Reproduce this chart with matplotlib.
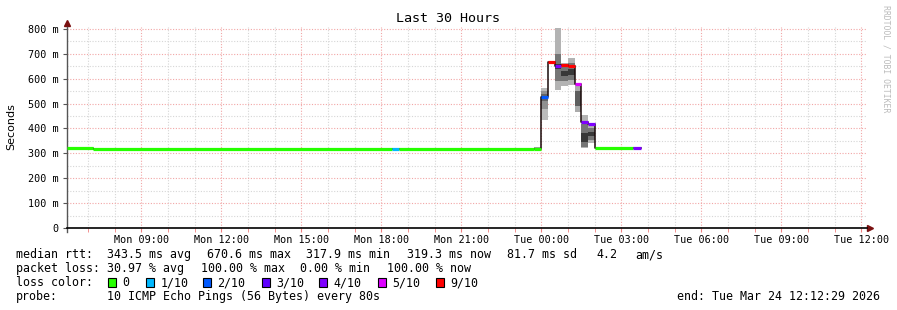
import matplotlib
matplotlib.use("Agg")
import matplotlib.pyplot as plt
import numpy as np

# hours since Mon 00:00
t_start = 6.208
t_end = 36.208

seg_times = [6.208, 7.2, 18.40, 18.66, 23.72, 24.0, 24.25, 24.5, 24.75, 25.0, 25.25, 25.5, 25.75, 26.0, 27.43, 27.73]
median_ms = [320, 318, 318, 318, 318, 526, 668, 651, 655, 650, 577, 427, 418, 320, 320]
loss = [0, 0, 1, 0, 0, 2, 9, 4, 9, 9, 5, 4, 4, 0, 4]

# sorted ping values per segment (ms), None = no smoke
smoke = [None, None, None, None,
         [318, 319, 319, 320, 320, 320, 321, 322, 324, 327],
         [434, 480, 512, 520, 530, 540, 552, 562],
         None,
         [554, 590, 640, 660, 700, 803],
         [572, 590, 610, 630, 648, 662],
         [576, 595, 615, 640, 665, 684],
         [467, 490, 520, 550, 574],
         [320, 326, 347, 380, 420, 454],
         [340, 355, 370, 385, 400, 413],
         None, None]

loss_colors = {0: '#26ff00', 1: '#00b8ff', 2: '#0059ff', 3: '#5e00ff',
               4: '#7e00ff', 5: '#dd00ff', 9: '#ff0000'}
legend_loss = [0, 1, 2, 3, 4, 5, 9]
legend_loss_labels = ['0', '1/10', '2/10', '3/10', '4/10', '5/10', '9/10']

tick_hours = [9, 12, 15, 18, 21, 24, 27, 30, 33, 36]
tick_labels = ['Mon 09:00', 'Mon 12:00', 'Mon 15:00', 'Mon 18:00', 'Mon 21:00',
               'Tue 00:00', 'Tue 03:00', 'Tue 06:00', 'Tue 09:00', 'Tue 12:00']
y_ticks = [0, 100, 200, 300, 400, 500, 600, 700, 800]

mono = 'DejaVu Sans Mono'
W, H = 897, 310

fig = plt.figure(figsize=(W / 100, H / 100), dpi=100)
fig.patch.set_facecolor('white')
ax = fig.add_axes([67 / W, (H - 228) / H, 800 / W, (228 - 26.5) / H])
ax.set_xlim(t_start, t_end)
ax.set_ylim(0, 810)

# grid
dot = (0, (1, 1.5))
for h in np.arange(7, 37, 1):
    c = '#f2a6a6' if h % 3 == 0 else '#d6d6d6'
    ax.axvline(h, color=c, lw=0.8, ls=dot, zorder=0)
for v in range(50, 811, 50):
    c = '#f2a6a6' if v % 100 == 0 else '#d6d6d6'
    ax.axhline(v, color=c, lw=0.8, ls=dot, zorder=0)

# smoke
for i, pings in enumerate(smoke):
    if pings is None:
        continue
    p = sorted(pings)
    n = len(p)
    half = (n - 1) / 2
    for j in range(n - 1):
        d = abs((j + 0.5) - half) / half
        g = 0.22 + 0.6 * d
        ax.fill_between([seg_times[i], seg_times[i + 1]], p[j], p[j + 1],
                        color=(g, g, g), lw=0, zorder=1)

# median line
ax.step(seg_times, median_ms + [median_ms[-1]], where='post', color='#1a0a0a', lw=1.1, zorder=2)
for i in range(len(median_ms)):
    ax.hlines(median_ms[i], seg_times[i], seg_times[i + 1],
              color=loss_colors[loss[i]], lw=2.3, zorder=3)

# axes styling
for s in ['top', 'right']:
    ax.spines[s].set_visible(False)
ax.spines['left'].set_color('#555555')
ax.spines['bottom'].set_color('black')
ax.spines['left'].set_linewidth(1)
ax.spines['bottom'].set_linewidth(1.2)
ax.spines['left'].set_bounds(-15, 810)
ax.plot([1.004], [0], marker='>', color='#7a1010', ms=4, transform=ax.transAxes, clip_on=False)
ax.plot([0], [1.015], marker='^', color='#7a1010', ms=4, transform=ax.transAxes, clip_on=False)

ax.set_xticks(tick_hours)
ax.set_xticklabels(tick_labels, fontsize=7.3, family=mono)
ax.set_xticks(np.arange(7, 37, 1), minor=True)
ax.tick_params(axis='x', which='major', length=3, color='#f08080', pad=2)
ax.tick_params(axis='x', which='minor', length=3, color='#f08080')
ax.set_yticks(y_ticks)
ax.set_yticklabels(['0'] + ['%d m' % v for v in y_ticks[1:]], fontsize=7.3, family=mono)
ax.tick_params(axis='y', length=3, color='#555555', pad=3)

fig.text(448 / W, 1 - 19 / H, 'Last 30 Hours', ha='center', va='center', fontsize=9.6, family=mono)
fig.text(11 / W, 1 - 127 / H, 'Seconds', rotation=90, ha='center', va='center', fontsize=8)
fig.text(886 / W, 1 - 5 / H, 'RRDTOOL / TOBI OETIKER', rotation=270, ha='center', va='top',
         fontsize=5.9, family=mono, color='#bbbbbb')

fs = 8.4


def put(x, y, s, ha='left'):
    fig.text(x / W, 1 - y / H, s, ha=ha, va='baseline', fontsize=fs, family=mono)


put(16, 258, 'median rtt:')
for x, s in [(107, '343.5 ms avg'), (207, '670.6 ms max'), (306.5, '317.9 ms min'),
             (407, '319.3 ms now'), (507, '81.7 ms sd'), (596.5, '4.2'), (635, 'am/s')]:
    put(x, 258, s)
put(16, 272, 'packet loss:')
for x, s in [(107, '30.97 % avg'), (200.5, '100.00 % max'), (300, '0.00 % min'), (386.5, '100.00 % now')]:
    put(x, 272, s)
put(16, 286, 'loss color:')
box_x = [108, 145.7, 203, 261.7, 319, 377.7, 435.7]
for bx, k, lab in zip(box_x, legend_loss, legend_loss_labels):
    fig.patches.append(plt.Rectangle((bx / W, 1 - 286.7 / H), 8 / W, 9 / H, transform=fig.transFigure,
                                     facecolor=loss_colors[k], edgecolor='black', lw=0.8))
    put(bx + 14.5, 286, lab)
put(16, 300, 'probe:')
put(107, 300, '10 ICMP Echo Pings (56 Bytes) every 80s')
put(880, 300, 'end: Tue Mar 24 12:12:29 2026', ha='right')

fig.savefig('out.png', dpi=100, facecolor='white')
